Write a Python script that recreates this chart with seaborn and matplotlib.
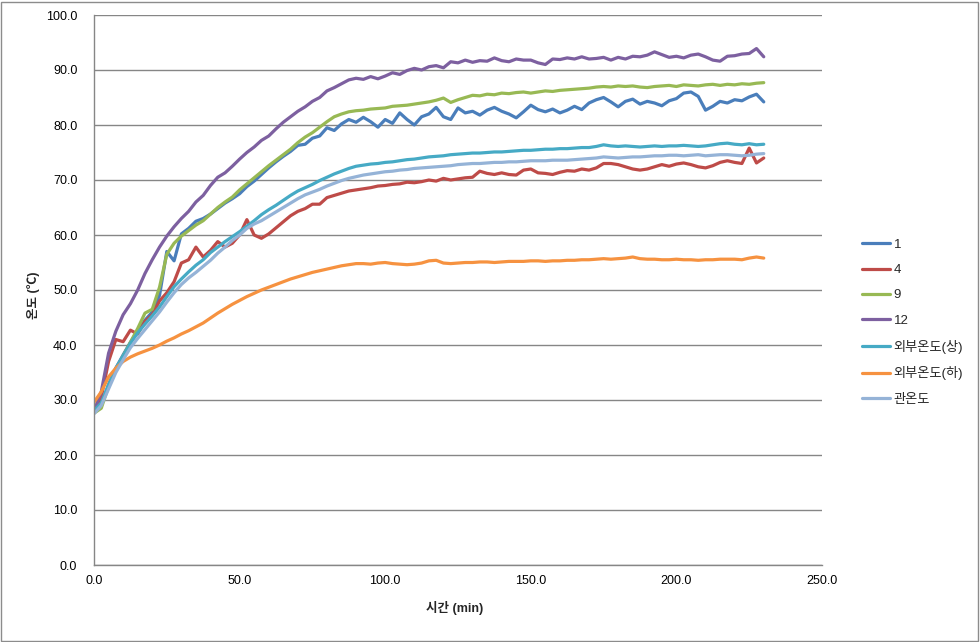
import numpy as np
import pandas as pd
import matplotlib
matplotlib.use("Agg")
import matplotlib.pyplot as plt
import seaborn as sns
from matplotlib.lines import Line2D
from matplotlib.patches import Rectangle

# ---------------- data ----------------
time_min = [2.5 * i for i in range(93)]  # 0.0 ... 230.0 min

s1 = [27.8, 29.0, 32.8, 35.8, 38.2, 40.5, 42.5, 44.5, 46.0, 49.0,
      57.0, 55.3, 60.2, 61.2, 62.5, 63.0, 63.8, 64.8, 65.8, 66.6,
      67.5, 68.8, 69.8, 71.0, 72.2, 73.3, 74.3, 75.2, 76.3, 76.5,
      77.6, 78.0, 79.5, 79.0, 80.2, 81.0, 80.5, 81.4, 80.6, 79.6,
      81.0, 80.3, 82.2, 81.0, 80.0, 81.5, 82.0, 83.2, 81.5, 81.0,
      83.1, 82.2, 82.5, 81.8, 82.7, 83.2, 82.5, 82.0, 81.3, 82.4,
      83.6, 82.8, 82.4, 82.9, 82.2, 82.7, 83.4, 82.8, 84.0, 84.6,
      85.0, 84.2, 83.3, 84.3, 84.7, 83.8, 84.3, 84.0, 83.5, 84.4,
      84.8, 85.8, 86.0, 85.2, 82.7, 83.4, 84.3, 84.0, 84.6, 84.4,
      85.1, 85.6, 84.2]

s4 = [28.0, 30.5, 37.0, 41.0, 40.6, 42.7, 42.0, 44.3, 45.5, 48.0,
      49.5, 51.5, 54.9, 55.5, 57.8, 56.0, 57.2, 58.8, 57.8, 58.5,
      60.0, 62.8, 60.0, 59.4, 60.2, 61.3, 62.4, 63.5, 64.3, 64.8,
      65.6, 65.6, 66.8, 67.2, 67.6, 68.0, 68.2, 68.4, 68.6, 68.9,
      69.0, 69.2, 69.3, 69.6, 69.5, 69.7, 70.0, 69.8, 70.3, 70.0,
      70.2, 70.4, 70.5, 71.6, 71.2, 71.0, 71.3, 71.0, 70.9, 71.8,
      72.0, 71.3, 71.2, 71.0, 71.4, 71.7, 71.6, 72.0, 71.8, 72.2,
      73.0, 73.0, 72.8, 72.4, 72.0, 71.8, 72.0, 72.4, 72.8, 72.5,
      72.9, 73.1, 72.8, 72.4, 72.2, 72.6, 73.2, 73.5, 73.2, 73.0,
      75.8, 73.1, 74.0]

s9 = [27.6, 28.5, 32.5, 35.5, 38.0, 40.5, 43.0, 45.8, 46.5, 50.5,
      56.5, 58.5, 59.8, 60.8, 61.8, 62.6, 63.8, 65.0, 66.0, 66.9,
      68.2, 69.3, 70.4, 71.5, 72.6, 73.6, 74.6, 75.6, 76.8, 77.8,
      78.6, 79.6, 80.6, 81.5, 82.0, 82.4, 82.6, 82.7, 82.9, 83.0,
      83.1, 83.4, 83.5, 83.6, 83.8, 84.0, 84.2, 84.5, 84.9, 84.1,
      84.6, 85.0, 85.4, 85.3, 85.6, 85.5, 85.8, 85.7, 85.9, 86.0,
      85.8, 86.0, 86.2, 86.1, 86.3, 86.4, 86.5, 86.6, 86.7, 86.9,
      87.0, 86.9, 87.1, 87.0, 87.1, 86.9, 86.8, 87.0, 87.1, 87.2,
      87.0, 87.3, 87.2, 87.1, 87.3, 87.4, 87.2, 87.4, 87.3, 87.5,
      87.4, 87.6, 87.7]

s12 = [28.0, 31.5, 38.5, 42.5, 45.5, 47.5, 50.0, 53.0, 55.5, 57.8,
       59.8, 61.5, 63.0, 64.3, 66.0, 67.2, 69.0, 70.5, 71.3, 72.5,
       73.8, 75.0, 76.0, 77.2, 78.0, 79.3, 80.5, 81.5, 82.5, 83.3,
       84.3, 85.0, 86.2, 86.8, 87.5, 88.2, 88.5, 88.3, 88.8, 88.4,
       88.9, 89.5, 89.2, 89.9, 90.3, 90.0, 90.6, 90.8, 90.4, 91.5,
       91.3, 91.8, 91.4, 91.7, 91.6, 92.2, 91.7, 91.5, 92.0, 91.8,
       91.8, 91.3, 91.0, 92.0, 91.9, 92.2, 92.0, 92.4, 92.0, 92.1,
       92.3, 91.8, 92.3, 92.0, 92.5, 92.4, 92.7, 93.3, 92.8, 92.3,
       92.5, 92.2, 92.7, 92.9, 92.4, 91.8, 91.6, 92.5, 92.6, 92.9,
       93.0, 93.9, 92.4]

s_up = [28.0, 29.5, 32.8, 35.8, 38.0, 40.3, 42.2, 43.8, 45.3, 46.9,
        48.8, 50.6, 52.0, 53.3, 54.5, 55.5, 56.8, 57.8, 58.8, 59.7,
        60.6, 61.6, 62.6, 63.7, 64.6, 65.4, 66.3, 67.2, 68.0, 68.6,
        69.2, 69.9, 70.5, 71.1, 71.6, 72.1, 72.5, 72.7, 72.9, 73.0,
        73.2, 73.3, 73.5, 73.7, 73.8, 74.0, 74.2, 74.3, 74.4, 74.6,
        74.7, 74.8, 74.9, 74.9, 75.0, 75.1, 75.1, 75.2, 75.3, 75.4,
        75.4, 75.5, 75.6, 75.6, 75.7, 75.7, 75.8, 75.9, 75.9, 76.1,
        76.4, 76.2, 76.1, 76.2, 76.1, 76.0, 76.1, 76.2, 76.1, 76.2,
        76.2, 76.3, 76.2, 76.1, 76.2, 76.4, 76.6, 76.7, 76.5, 76.4,
        76.6, 76.4, 76.5]

s_low = [29.6, 31.5, 34.2, 35.8, 37.0, 37.8, 38.4, 38.9, 39.4, 40.0,
         40.7, 41.3, 42.0, 42.6, 43.3, 44.0, 44.9, 45.8, 46.6, 47.4,
         48.1, 48.8, 49.4, 50.0, 50.5, 51.0, 51.5, 52.0, 52.4, 52.8,
         53.2, 53.5, 53.8, 54.1, 54.4, 54.6, 54.8, 54.8, 54.7, 54.9,
         55.0, 54.8, 54.7, 54.6, 54.7, 54.9, 55.3, 55.4, 54.9, 54.8,
         54.9, 55.0, 55.0, 55.1, 55.1, 55.0, 55.1, 55.2, 55.2, 55.2,
         55.3, 55.3, 55.2, 55.3, 55.3, 55.4, 55.4, 55.5, 55.5, 55.6,
         55.7, 55.6, 55.7, 55.8, 56.0, 55.7, 55.6, 55.6, 55.5, 55.5,
         55.6, 55.5, 55.5, 55.4, 55.5, 55.5, 55.6, 55.6, 55.6, 55.5,
         55.8, 56.0, 55.8]

s_pipe = [27.5, 29.0, 32.0, 35.0, 37.3, 39.5, 41.2, 42.8, 44.4, 46.0,
          47.8, 49.5, 51.0, 52.2, 53.2, 54.3, 55.4, 56.7, 57.8, 59.0,
          60.0, 61.2, 62.0, 62.6, 63.4, 64.2, 65.0, 65.8, 66.6, 67.3,
          67.8, 68.3, 68.9, 69.4, 69.9, 70.3, 70.6, 70.9, 71.1, 71.3,
          71.5, 71.6, 71.8, 71.9, 72.1, 72.2, 72.3, 72.4, 72.5, 72.6,
          72.8, 72.9, 73.0, 73.0, 73.1, 73.2, 73.2, 73.3, 73.3, 73.4,
          73.5, 73.5, 73.5, 73.6, 73.6, 73.6, 73.7, 73.8, 73.9, 74.0,
          74.2, 74.1, 74.0, 74.1, 74.2, 74.2, 74.3, 74.4, 74.4, 74.5,
          74.5, 74.4, 74.5, 74.6, 74.4, 74.5, 74.6, 74.6, 74.5, 74.4,
          74.5, 74.7, 74.8]

series_names = ["1", "4", "9", "12", "외부온도(상)", "외부온도(하)", "관온도"]
series_values = [s1, s4, s9, s12, s_up, s_low, s_pipe]
colors = ["#4A7EBB", "#BE4B48", "#98B954", "#7D60A0", "#46AAC5", "#F69240", "#95B3D7"]

x_ticks = [0, 50, 100, 150, 200, 250]
y_ticks = [0, 10, 20, 30, 40, 50, 60, 70, 80, 90, 100]

# ---------------- figure ----------------
sns.set_theme(style="white")
plt.rcParams["font.family"] = ["Liberation Sans", "Noto Sans CJK KR", "DejaVu Sans"]

df = pd.concat(
    [pd.DataFrame({"t": time_min, "v": vals, "series": name})
     for name, vals in zip(series_names, series_values)],
    ignore_index=True)

fig = plt.figure(figsize=(9.8, 6.42), dpi=100)
ax = fig.add_axes([94 / 980, 1 - 565 / 642, 728 / 980, 550 / 642])

sns.lineplot(data=df, x="t", y="v", hue="series", hue_order=series_names,
             palette=dict(zip(series_names, colors)), linewidth=2.3,
             estimator=None, sort=False, legend=False, ax=ax)

ax.set_xlim(0, 250)
ax.set_ylim(0, 100)
ax.set_xticks(x_ticks)
ax.set_yticks(y_ticks)
ax.set_xticklabels([f"{v:.1f}" for v in x_ticks])
ax.set_yticklabels([f"{v:.1f}" for v in y_ticks])
ax.tick_params(axis="both", length=0, labelsize=9, colors="#000000")
ax.tick_params(axis="y", pad=12)
ax.tick_params(axis="x", pad=7)

ax.yaxis.grid(True, color="#868686", linewidth=1)
ax.xaxis.grid(False)
ax.set_axisbelow(True)
for side in ["top", "right"]:
    ax.spines[side].set_visible(False)
for side in ["left", "bottom"]:
    ax.spines[side].set_color("#868686")
    ax.spines[side].set_linewidth(1)

ax.set_xlabel("시간 (min)", fontsize=9, fontweight="bold")
ax.set_ylabel("온도 (℃)", fontsize=9, fontweight="bold")
ax.xaxis.set_label_coords((455 - 94) / 728, (565 - 601) / 550)
ax.yaxis.set_label_coords((40 - 94) / 728, (565 - 295) / 550)

handles = [Line2D([0], [0], color=c, linewidth=2.3) for c in colors]
fig.legend(handles, series_names, loc="upper left",
           bbox_to_anchor=(850 / 980, 1 - 227 / 642), frameon=False,
           fontsize=9.5, handlelength=2.1, handletextpad=0.3, labelspacing=0.98)

fig.patches.append(Rectangle((0.001, 0.0015), 0.997, 0.996, transform=fig.transFigure,
                             fill=False, edgecolor="#8C8C8C", linewidth=1))

fig.savefig("out.png", dpi=100)
